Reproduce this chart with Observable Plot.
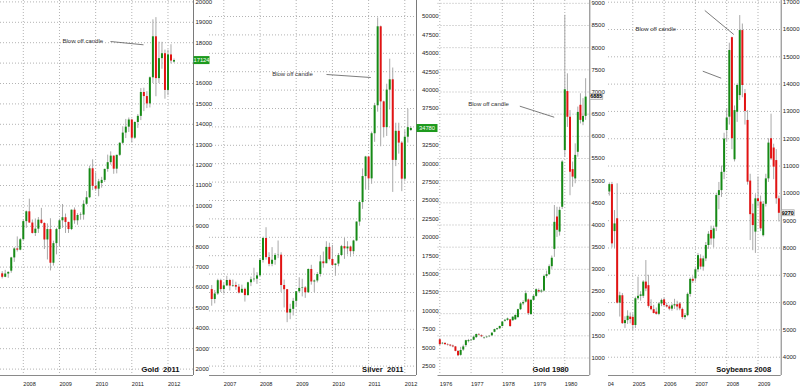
<!DOCTYPE html>
<html>
<head>
<meta charset="utf-8">
<script src="https://cdn.jsdelivr.net/npm/d3@7"></script>
<script src="https://cdn.jsdelivr.net/npm/@observablehq/plot@0.6"></script>
<style>
html,body{margin:0;padding:0;background:#fff;}
#chart{position:relative;width:800px;height:391px;overflow:hidden;background:#fff;font-family:"Liberation Sans",Arial,sans-serif;}
.panel{position:absolute;top:0;height:391px;overflow:hidden;}
.panel svg{overflow:hidden;display:block;}
</style>
</head>
<body>
<div id="chart"></div>
<script>
// ---------------- DATA ----------------
// Gold 2011 (monthly, price x10)
const goldMonths = ["2007-06","2007-07","2007-08","2007-09","2007-10","2007-11","2007-12",
"2008-01","2008-02","2008-03","2008-04","2008-05","2008-06","2008-07","2008-08","2008-09","2008-10","2008-11","2008-12",
"2009-01","2009-02","2009-03","2009-04","2009-05","2009-06","2009-07","2009-08","2009-09","2009-10","2009-11","2009-12",
"2010-01","2010-02","2010-03","2010-04","2010-05","2010-06","2010-07","2010-08","2010-09","2010-10","2010-11","2010-12",
"2011-01","2011-02","2011-03","2011-04","2011-05","2011-06","2011-07","2011-08","2011-09","2011-10","2011-11","2011-12",
"2012-01","2012-02","2012-03"];
const goldOpen  = [6670,6500,6660,6800,7450,7890,7830, 8340,9230,9710,9160,8650,8860,9300,9140,8330,8840,7190,8150, 8840,9270,9420,9190,8840,9790,9270,9530,9550,10080,10400,11820, 10960,10820,11100,11250,11790,12120,12440,11800,12480,13070,13570,13860, 14210,13320,14090,14390,15560,15360,15000,16280,18290,16240,17220,17460, 15660,17400,17050];
const goldHigh  = [6780,6840,6770,7480,7950,8480,8400, 9320,9750,10330,9310,9360,9430,9880,9170,9120,9370,8270,8900, 9350,10070,9600,9200,9800,9900,9620,9660,10250,10700,11950,12260, 11620,11300,11400,11800,12490,12650,12450,12480,13100,13880,14240,14310, 14250,14120,14480,15750,15770,15600,16320,19120,19230,18030,18020,17640, 17640,17900,17200];
const goldLow   = [6420,6480,6450,6700,7230,7740,7800, 8320,8900,9150,8620,8500,8650,9100,7860,7350,6810,7050,7600, 8000,8900,8650,8650,8790,9100,9050,9300,9300,10030,10350,10750, 10720,10450,10870,11150,11650,12000,11550,11570,12420,13000,13300,13600, 13080,13260,13800,14180,14620,14770,14800,16000,15350,16000,16700,15230, 15400,16960,17000];
const goldClose = [6500,6660,6740,7450,7890,7830,8340, 9230,9710,9160,8650,8860,9300,9140,8330,8840,7190,8150,8840, 9270,9420,9190,8840,9790,9270,9530,9550,10080,10400,11820,10960, 10820,11180,11250,11790,12120,12440,11800,12480,13070,13570,13860,14210, 13320,14090,14390,15560,15360,15000,16280,18290,16240,17220,17460,15660, 17400,17100,17124];
const goldTicks = [2000,3000,4000,5000,6000,7000,8000,9000,10000,11000,12000,13000,14000,15000,16000,17000,18000,19000,20000];
const goldYears = [2008,2009,2010,2011,2012];
const goldTitle = "Gold  2011";
const goldLast = 17124;
const goldNote = {x:2009.084, y:18059, text:"Blow off candle"};
const goldLines = [{x1:2010.411, y1:18059, x2:2011.323, y2:17897}];

// Silver 2011 (monthly, price x1000)
const silverMonths = ["2006-09","2006-10","2006-11","2006-12",
"2007-01","2007-02","2007-03","2007-04","2007-05","2007-06","2007-07","2007-08","2007-09","2007-10","2007-11","2007-12",
"2008-01","2008-02","2008-03","2008-04","2008-05","2008-06","2008-07","2008-08","2008-09","2008-10","2008-11","2008-12",
"2009-01","2009-02","2009-03","2009-04","2009-05","2009-06","2009-07","2009-08","2009-09","2009-10","2009-11","2009-12",
"2010-01","2010-02","2010-03","2010-04","2010-05","2010-06","2010-07","2010-08","2010-09","2010-10","2010-11","2010-12",
"2011-01","2011-02","2011-03","2011-04","2011-05","2011-06","2011-07","2011-08","2011-09","2011-10","2011-11","2011-12",
"2012-01","2012-02","2012-03"];
const silverOpen  = [12900,11550,12300,14100, 12900,13400,14130,13370,13450,13230,12430,12930,12080,13820,14230,14310, 14760,16860,19840,17240,16330,16880,17540,17570,13450,12880,9710,10210, 11300,12600,13050,13120,12460,15630,13930,14070,14950,16660,16410,18630, 16990,16180,16360,17520,18730,18430,18680,18050,19500,22070,24720,28250, 30910,27940,34070,37870,48600,38400,34900,40000,41400,30450,34400,32800, 27900,33600,34500];
const silverHigh  = [13450,12770,14300,14300, 13700,14700,14300,14200,13900,13600,13500,13100,13900,14600,15800,15200, 17100,20000,21300,17900,18600,17800,19500,17900,14200,12900,10900,11700, 12600,14500,14300,13300,15700,16200,14200,15200,17500,18000,19400,19200, 18900,16400,17800,18900,19900,19400,18800,19600,22100,24900,29300,31000, 31000,34300,38200,49800,48700,38500,40800,44200,43000,35500,35500,33000, 34500,37400,35000];
const silverLow   = [10640,10960,12100,12500, 12300,13300,12700,13200,12800,12300,12400,11200,12000,13300,13900,13600, 14700,16500,16900,16000,16000,16200,17100,12500,10400,8400,8800,9300, 10500,12400,11900,11700,12400,13500,12500,13800,14600,15800,16400,16800, 16000,14700,16000,17400,17000,17600,17300,17600,19400,21500,23800,26400, 26400,27200,32900,37000,32300,33500,33700,37300,26100,29600,31300,26200, 27700,32800,34400];
const silverClose = [11550,12300,14100,12900, 13400,14130,13370,13450,13230,12430,12930,12080,13820,14230,14310,14760, 16860,19840,17240,16330,16880,17540,17570,13450,12880,9710,10210,11300, 12600,13050,13120,12460,15630,13930,14070,14950,16660,16410,18630,16990, 16180,16360,17520,18730,18430,18680,18050,19500,22070,24720,28250,30910, 27940,34070,37870,48600,38400,34900,40000,41400,30450,34400,32800,27900, 33600,34900,34780];
const silverTicks = [2500,5000,7500,10000,12500,15000,17500,20000,22500,25000,27500,30000,32500,35000,37500,40000,42500,45000,47500,50000];
const silverYears = [2007,2008,2009,2010,2011,2012];
const silverTitle = "Silver  2011";
const silverLast = 34780;
const silverNote = {x:2008.337, y:42215, text:"Blow off candle"};
const silverLines = [{x1:2009.837, y1:42120, x2:2011.061, y2:41712}];

// Gold 1980 (monthly, price x10)
const gold80Months = ["1976-01","1976-02","1976-03","1976-04","1976-05","1976-06","1976-07","1976-08","1976-09","1976-10","1976-11","1976-12",
"1977-01","1977-02","1977-03","1977-04","1977-05","1977-06","1977-07","1977-08","1977-09","1977-10","1977-11","1977-12",
"1978-01","1978-02","1978-03","1978-04","1978-05","1978-06","1978-07","1978-08","1978-09","1978-10","1978-11","1978-12",
"1979-01","1979-02","1979-03","1979-04","1979-05","1979-06","1979-07","1979-08","1979-09","1979-10","1979-11","1979-12",
"1980-01","1980-02","1980-03","1980-04","1980-05","1980-06","1980-07","1980-08","1980-09"];
const gold80Open  = [1410,1320,1330,1300,1290,1270,1250,1150,1060,1180,1280,1370, 1390,1400,1460,1530,1500,1450,1460,1480,1500,1580,1640,1660, 1710,1830,1850,1860,1840,1860,1910,2090,2220,2260,2310,1980, 2300,2390,2520,2490,2510,2840,2880,3060,3450,4180,3840,4400, 5680,7010,6430,5250,5040,5640,6700,6320,6450];
const gold80High  = [1440,1350,1340,1320,1300,1290,1260,1160,1240,1290,1400,1420, 1420,1490,1540,1550,1520,1470,1490,1500,1570,1650,1670,1720, 1820,1870,1900,1870,1930,1970,2100,2250,2290,2510,2330,2320, 2420,2560,2560,2540,2870,2960,3100,3300,4440,4400,4400,5450, 8730,7410,6580,5420,5830,6660,6960,6850,7300];
const gold80Low   = [1280,1300,1290,1270,1250,1230,1140,1030,1040,1150,1240,1340, 1370,1390,1440,1500,1460,1420,1440,1460,1490,1570,1620,1640, 1700,1810,1830,1690,1830,1850,1900,2070,2180,2240,1960,1960, 2280,2370,2460,2460,2490,2800,2860,3000,3270,3720,3750,4350, 5530,6200,4660,4850,4930,5530,6280,6240,6360];
const gold80Close = [1300,1330,1300,1290,1270,1250,1150,1050,1170,1250,1390,1390, 1400,1470,1530,1520,1480,1460,1470,1490,1560,1640,1660,1710, 1810,1850,1880,1710,1920,1960,2090,2220,2250,2450,2000,2300, 2390,2540,2490,2510,2840,2880,3060,3250,4060,3880,4330,5420, 7050,6430,5190,5080,5570,6540,6360,6450,6885];
const gold80Ticks = [1000,1500,2000,2500,3000,3500,4000,4500,5000,5500,6000,6500,7000,7500,8000,8500,9000];
const gold80Years = [1976,1977,1978,1979,1980];
const gold80Title = "Gold 1980";
const gold80Last = 6885;
const gold80Note = {x:1976.909, y:6725, text:"Blow off candle"};
const gold80Lines = [{x1:1978.56, y1:6680, x2:1979.661, y2:6431}];

// Soybeans 2008 (monthly, price x10 cents)
const soyMonths = ["2004-04","2004-05","2004-06","2004-07","2004-08","2004-09","2004-10","2004-11","2004-12",
"2005-01","2005-02","2005-03","2005-04","2005-05","2005-06","2005-07","2005-08","2005-09","2005-10","2005-11","2005-12",
"2006-01","2006-02","2006-03","2006-04","2006-05","2006-06","2006-07","2006-08","2006-09","2006-10","2006-11","2006-12",
"2007-01","2007-02","2007-03","2007-04","2007-05","2007-06","2007-07","2007-08","2007-09","2007-10","2007-11","2007-12",
"2008-01","2008-02","2008-03","2008-04","2008-05","2008-06","2008-07","2008-08","2008-09","2008-10","2008-11","2008-12",
"2009-01","2009-02","2009-03","2009-04","2009-05","2009-06","2009-07","2009-08","2009-09"];
const soyOpen  = [10050,10320,8600,9070,5980,6250,5230,5340,5470, 5460,5160,6140,6230,6230,6750,6620,5860,5740,5650,5570,5950, 6100,5890,5840,5760,5880,5920,5950,5750,5450,5520,6300,6850, 6870,7200,7600,7300,7600,8090,8640,8330,8760,9920,10100,10770, 12300,12790,15700,11230,12970,13580,15960,13650,12670,10450,9250,8580, 9800,9680,8450,9600,10530,12000,11660,11200,9800];
const soyHigh  = [10380,10400,9370,10350,6380,6330,5480,5700,5620, 5590,6200,6930,6400,6800,7540,7000,6100,5900,5800,6000,6130, 6160,5980,5900,5950,6120,6050,6000,5800,5600,6350,6900,6950, 7300,7800,7750,7700,8200,8600,8800,8800,10000,10400,11000,12200, 13100,15500,15720,13200,14000,16510,16200,13800,13030,10700,9600,9950, 10600,9900,9700,10700,12000,12900,11800,11600,9900];
const soyLow   = [9900,8000,7970,5950,5470,5200,5050,5200,5220, 4980,5050,6080,6050,6150,6400,5800,5700,5580,5540,5520,5850, 5850,5800,5700,5680,5750,5700,5700,5380,5350,5480,6200,6700, 6750,7100,7200,7150,7500,7950,8100,8000,8600,9400,9850,10500, 11900,12500,11600,11150,12600,13400,13500,12500,10300,8270,7900,7800, 9500,8600,8400,9500,10400,11200,10500,9600,8950];
const soyClose = [10320,8150,8880,5980,6250,5230,5340,5500,5380, 5160,6140,6230,6280,6750,6500,5860,5740,5600,5570,5950,6080, 5890,5840,5760,5880,5920,5840,5770,5450,5520,6300,6850,6780, 7200,7720,7300,7600,8090,8500,8330,8700,9920,10100,10770,11990, 12760,15230,12000,13030,13950,15960,13950,13000,10410,9220,8820,9800, 9700,8700,9600,10530,11840,11260,10960,9800,9270];
const soyTicks = [4000,5000,6000,7000,8000,9000,10000,11000,12000,13000,14000,15000,16000,17000];
const soyGridYears = [2005,2006,2007,2008,2009];
const soyYearLabels = [2004,2005,2006,2007,2008,2009];
const soyTitle = "Soybeans 2008";
const soyLast = 9270;
const soyNote = {x:2005.086, y:16000, text:"Blow off candle"};
const soyLines = [{x1:2007.300, y1:16696, x2:2008.227, y2:15817}, {x1:2007.236, y1:14473, x2:2007.824, y2:14217}];

// ---------------- DRAWING ----------------
const UP = "#168a16", DOWN = "#e21313", WICK = "#a9a9a9", GRID = "#b3b3b3";
const FONT = "'Liberation Sans', Arial, sans-serif";
const H = 391, MB = 16;

function ym(s){ const [y, m] = s.split("-").map(Number); return y + (m - 1) / 12; }
function rowsOf(months, o, h, l, c){ return months.map((m, i) => ({t: ym(m), o: o[i], h: h[i], l: l[i], c: c[i]})); }

const panels = [
  {left:0, width:215, ml:0, mr:22, xDomain:[2007.3696, 2012.7055], yDomain:[1686, 20069],
   rows:rowsOf(goldMonths, goldOpen, goldHigh, goldLow, goldClose), yTicks:goldTicks, grid:goldYears, yearLabels:goldYears,
   gap:2, title:goldTitle, titleDx:-14, note:goldNote, lines:goldLines, last:goldLast, solidTag:true, tagW:16, tagH:8},
  {left:209, width:230, ml:0, mr:23, xDomain:[2006.605, 2012.323], yDomain:[1223, 52174],
   rows:rowsOf(silverMonths, silverOpen, silverHigh, silverLow, silverClose), yTicks:silverTicks, grid:silverYears, yearLabels:silverYears,
   gap:5.5, title:silverTitle, titleDx:-13, note:silverNote, lines:silverLines, last:silverLast, solidTag:true, tagW:21, tagH:8},
  {left:437, width:171, ml:0.5, mr:18.7, xDomain:[1975.942, 1980.8], yDomain:[605, 9064],
   rows:rowsOf(gold80Months, gold80Open, gold80High, gold80Low, gold80Close), yTicks:gold80Ticks, grid:gold80Years, yearLabels:gold80Years,
   gap:1.6, title:gold80Title, titleDx:-21, note:gold80Note, lines:gold80Lines, last:gold80Last, solidTag:false, tagW:13, tagH:6},
  {left:608, width:192, ml:0, mr:19.3, xDomain:[2004.2236, 2009.741], yDomain:[3330, 17062],
   rows:rowsOf(soyMonths, soyOpen, soyHigh, soyLow, soyClose), yTicks:soyTicks, grid:soyGridYears, yearLabels:soyYearLabels,
   gap:1.6, title:soyTitle, titleDx:-10, note:soyNote, lines:soyLines, last:soyLast, solidTag:false, tagW:13, tagH:6}
];

const root = document.getElementById("chart");

panels.forEach(p => {
  const up = p.rows.filter(d => d.c >= d.o);
  const down = p.rows.filter(d => d.c < d.o);
  // the solid last-value tag hides the tick label it sits on (as in the original chart)
  const ys = Plot.scale({y: {domain: p.yDomain, range: [H - MB, 0]}});
  const labelTicks = p.solidTag ? p.yTicks.filter(t => Math.abs(ys.apply(t) - ys.apply(p.last)) > p.tagH * 0.75) : p.yTicks;
  const plot = Plot.plot({
    width: p.width, height: H,
    marginTop: 0, marginBottom: MB, marginLeft: p.ml, marginRight: p.mr,
    style: {background: "transparent", fontFamily: FONT, fontSize: "6px", overflow: "hidden"},
    x: {domain: p.xDomain, axis: null},
    y: {domain: p.yDomain, axis: null},
    marks: [
      Plot.ruleY(p.yTicks, {stroke: GRID, strokeDasharray: "1,2"}),
      Plot.ruleX(p.grid, {stroke: GRID, strokeDasharray: "1,2"}),
      Plot.ruleX(p.rows, {x: "t", y1: "l", y2: "h", stroke: WICK, strokeWidth: 1}),
      Plot.ruleX(up, {x: "t", y1: "o", y2: "c", stroke: UP, strokeWidth: 2}),
      Plot.ruleX(down, {x: "t", y1: "o", y2: "c", stroke: DOWN, strokeWidth: 2}),
      Plot.ruleX([p.xDomain[1]], {stroke: "#7a7a7a"}),
      Plot.ruleY([p.yDomain[0]], {stroke: "#8a8a8a"}),
      Plot.text(labelTicks, {y: d => d, text: d => String(d), frameAnchor: "right", textAnchor: "start", dx: p.gap, fill: "#222", fontSize: 6}),
      Plot.text(p.yearLabels, {x: d => d, text: d => String(d), frameAnchor: "bottom", textAnchor: "start", dy: 10.5, fill: "#222", fontSize: 5.6}),
      Plot.link(p.lines, {x1: "x1", y1: "y1", x2: "x2", y2: "y2", stroke: "#5a5a5a", strokeWidth: 0.8}),
      Plot.text([p.note], {x: "x", y: "y", text: "text", textAnchor: "start", fill: "#333", fontSize: 6}),
      Plot.text([p.title], {frameAnchor: "bottom-right", text: d => d, textAnchor: "end", lineAnchor: "bottom",
        dx: p.titleDx, dy: -4, fontWeight: "bold", fontSize: 7.6, fill: "#111"})
    ]
  });
  // last-value tag on the right axis, positioned through the plot's y scale
  const yv = plot.scale("y").apply(p.last);
  const xr = p.width - p.mr;
  const g = d3.select(plot).append("g");
  g.append("rect").attr("x", xr + 0.5).attr("y", yv - p.tagH / 2).attr("width", p.tagW).attr("height", p.tagH)
    .attr("fill", p.solidTag ? "#1d9a1d" : "#ececec").attr("stroke", p.solidTag ? "none" : "#9a9a9a").attr("stroke-width", 0.6);
  g.append("text").attr("x", xr + 0.5 + p.tagW / 2).attr("y", yv).attr("dy", "0.34em")
    .attr("text-anchor", "middle").attr("fill", p.solidTag ? "#fff" : "#000").attr("font-size", p.solidTag ? 5.8 : 5.4)
    .attr("font-weight", p.solidTag ? "normal" : "bold").attr("font-family", FONT).text(String(p.last));

  const div = document.createElement("div");
  div.className = "panel";
  div.style.left = p.left + "px";
  div.style.width = p.width + "px";
  div.appendChild(plot);
  root.appendChild(div);
});
</script>
</body>
</html>
